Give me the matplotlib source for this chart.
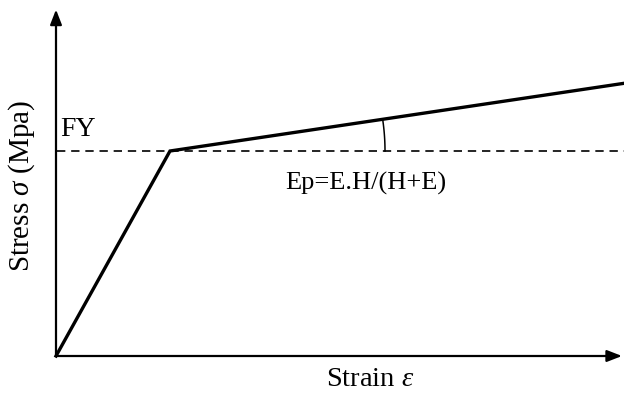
import numpy as np
import matplotlib.pyplot as plt

plt.rcParams['font.family'] = ['Liberation Serif', 'DejaVu Serif']
plt.rcParams['mathtext.fontset'] = 'custom'
plt.rcParams['mathtext.rm'] = 'Liberation Serif'
plt.rcParams['mathtext.it'] = 'Liberation Serif:italic'

# bilinear hardening curve (normalised units: yield point at (1, 1))
strain = [0.0, 1.0, 4.98]
stress = [0.0, 1.0, 1.33]
fy = 1.0
x_end = 4.965
y_end = 1.69

# pixels per unit along each axis
sx = 114.0
sy = 205.0

fig = plt.figure(figsize=(6.24, 3.94), dpi=100)
ax = fig.add_axes([0, 0, 1, 1])
ax.set_xlim(-56 / sx, 568 / sx)
ax.set_ylim(-38 / sy, 356 / sy)
ax.axis('off')

# axes with arrow heads
arrow = dict(arrowstyle='-|>,head_length=0.9,head_width=0.35', color='black', lw=1.6,
             shrinkA=0, shrinkB=0)
ax.annotate('', xy=(x_end, 0), xytext=(0, 0), arrowprops=arrow)
ax.annotate('', xy=(0, y_end), xytext=(0, 0), arrowprops=arrow)

# yield level
ax.plot([0.01, x_end + 0.05], [fy, fy], color='black', lw=1.2, ls=(0, (5, 3.5)))

# stress-strain curve
ax.plot(strain, stress, color='black', lw=2.4, solid_joinstyle='miter')

# angle marker between yield level and hardening branch
theta = np.arctan(((stress[2] - stress[1]) * sy) / ((strain[2] - strain[1]) * sx))
t = np.linspace(0, theta, 30)
r = 215.0
ax.plot(strain[1] + r * np.cos(t) / sx, stress[1] + r * np.sin(t) / sy, color='black', lw=1.1)

ax.text(0.035, 1.073, 'FY', fontsize=20, ha='left', va='baseline')
ax.text(2.72, 0.81, 'Ep=E.H/(H+E)', fontsize=19, ha='center', va='baseline')
ax.text(2.754, -0.146, r'Strain $\varepsilon$', fontsize=20.5, ha='center', va='baseline')
fig.text(22 / 624, 1 - 186 / 394, r'Stress $\sigma$ (Mpa)', fontsize=21, rotation=90,
         ha='center', va='center')

fig.savefig('out.png', dpi=100)
